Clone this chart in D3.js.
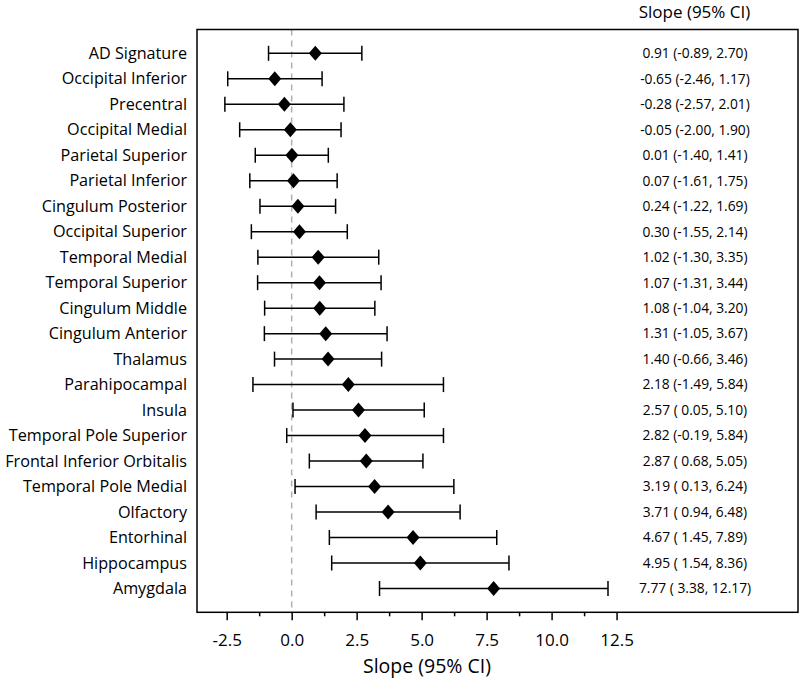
<!DOCTYPE html>
<html><head><meta charset="utf-8">
<script src="https://cdn.jsdelivr.net/npm/d3@7"></script>
<style>body{margin:0;background:#fff}svg{display:block}</style>
</head><body>
<svg id="c" width="800" height="678"></svg>
<script>
const regions = ["AD Signature","Occipital Inferior","Precentral","Occipital Medial","Parietal Superior","Parietal Inferior","Cingulum Posterior","Occipital Superior","Temporal Medial","Temporal Superior","Cingulum Middle","Cingulum Anterior","Thalamus","Parahipocampal","Insula","Temporal Pole Superior","Frontal Inferior Orbitalis","Temporal Pole Medial","Olfactory","Entorhinal","Hippocampus","Amygdala"];
const slope = [0.91,-0.65,-0.28,-0.05,0.01,0.07,0.24,0.30,1.02,1.07,1.08,1.31,1.40,2.18,2.57,2.82,2.87,3.19,3.71,4.67,4.95,7.77];
const lower = [-0.89,-2.46,-2.57,-2.00,-1.40,-1.61,-1.22,-1.55,-1.30,-1.31,-1.04,-1.05,-0.66,-1.49,0.05,-0.19,0.68,0.13,0.94,1.45,1.54,3.38];
const upper = [2.70,1.17,2.01,1.90,1.41,1.75,1.69,2.14,3.35,3.44,3.20,3.67,3.46,5.84,5.10,5.84,5.05,6.24,6.48,7.89,8.36,12.17];
const majorTicks = [-2.5,0,2.5,5,7.5,10,12.5];
const minorTicks = [-1.25,1.25,3.75,6.25,8.75,11.25];

const font = "'Open Sans', 'Noto Sans', sans-serif";
const svg = d3.select("#c");
const L = 197, R = 798, T = 29.5, B = 612.3;
const x = d3.scaleLinear().domain([-3.642, 19.48]).range([L, R]);
const y = d3.scalePoint().domain(regions).range([T, B]).padding(0.935);
const data = regions.map((r,i)=>({r, s:slope[i], lo:lower[i], hi:upper[i]}));
const lab = d => d.s.toFixed(2) + " (" + (d.lo < 0 ? "" : " ") + d.lo.toFixed(2) + ", " + d.hi.toFixed(2) + ")";

// zero reference line
svg.append("line").attr("x1", x(0)).attr("x2", x(0)).attr("y1", T).attr("y2", B)
  .attr("stroke", "#b0b0b0").attr("stroke-width", 1.5).attr("stroke-dasharray", "6,5");

const g = svg.append("g");
const rows = g.selectAll("g.row").data(data).join("g").attr("class","row");
rows.append("line").attr("x1", d=>x(d.lo)).attr("x2", d=>x(d.hi))
  .attr("y1", d=>y(d.r)).attr("y2", d=>y(d.r)).attr("stroke","#000").attr("stroke-width",1.5);
rows.append("line").attr("x1", d=>x(d.lo)).attr("x2", d=>x(d.lo))
  .attr("y1", d=>y(d.r)-7.5).attr("y2", d=>y(d.r)+7.5).attr("stroke","#000").attr("stroke-width",1.5);
rows.append("line").attr("x1", d=>x(d.hi)).attr("x2", d=>x(d.hi))
  .attr("y1", d=>y(d.r)-7.5).attr("y2", d=>y(d.r)+7.5).attr("stroke","#000").attr("stroke-width",1.5);
rows.append("path")
  .attr("d", d=>{const cx=x(d.s), cy=y(d.r); return `M${cx},${cy-7.5}L${cx+6.5},${cy}L${cx},${cy+7.5}L${cx-6.5},${cy}Z`;})
  .attr("fill","#000");
rows.append("text").attr("x", 695).attr("y", d=>y(d.r)).attr("dy","0.35em")
  .attr("text-anchor","middle").attr("font-family",font).attr("font-size",13.8).attr("fill","#000")
  .text(d=>lab(d));

// y labels
rows.append("text").attr("x", L-10).attr("y", d=>y(d.r)).attr("dy","0.35em")
  .attr("text-anchor","end").attr("font-family",font).attr("font-size",16.2).attr("fill","#000")
  .text(d=>d.r);

// frame
svg.append("rect").attr("x",L).attr("y",T).attr("width",R-L).attr("height",B-T)
  .attr("fill","none").attr("stroke","#000").attr("stroke-width",1.5);

// x axis
const ax = svg.append("g").attr("transform",`translate(0,${B})`)
  .call(d3.axisBottom(x).tickValues(majorTicks).tickSize(8).tickFormat(v => v.toFixed(1)));
ax.select(".domain").remove();
ax.selectAll(".tick line").attr("stroke-width",1.5);
ax.selectAll(".tick text").attr("font-family",font).attr("font-size",17).attr("dy","0.35em").attr("y",28);
const axm = svg.append("g").attr("transform",`translate(0,${B})`)
  .call(d3.axisBottom(x).tickValues(minorTicks).tickSize(4).tickFormat(""));
axm.select(".domain").remove();
axm.selectAll(".tick line").attr("stroke-width",1.5);

svg.append("text").attr("x", 427).attr("y", 666).attr("dy","0.35em").attr("text-anchor","middle")
  .attr("font-family",font).attr("font-size",19.5).text("Slope (95% CI)");
svg.append("text").attr("x", 694.5).attr("y", 12.5).attr("dy","0.35em").attr("text-anchor","middle")
  .attr("font-family",font).attr("font-size",17).text("Slope (95% CI)");
</script>
</body></html>
